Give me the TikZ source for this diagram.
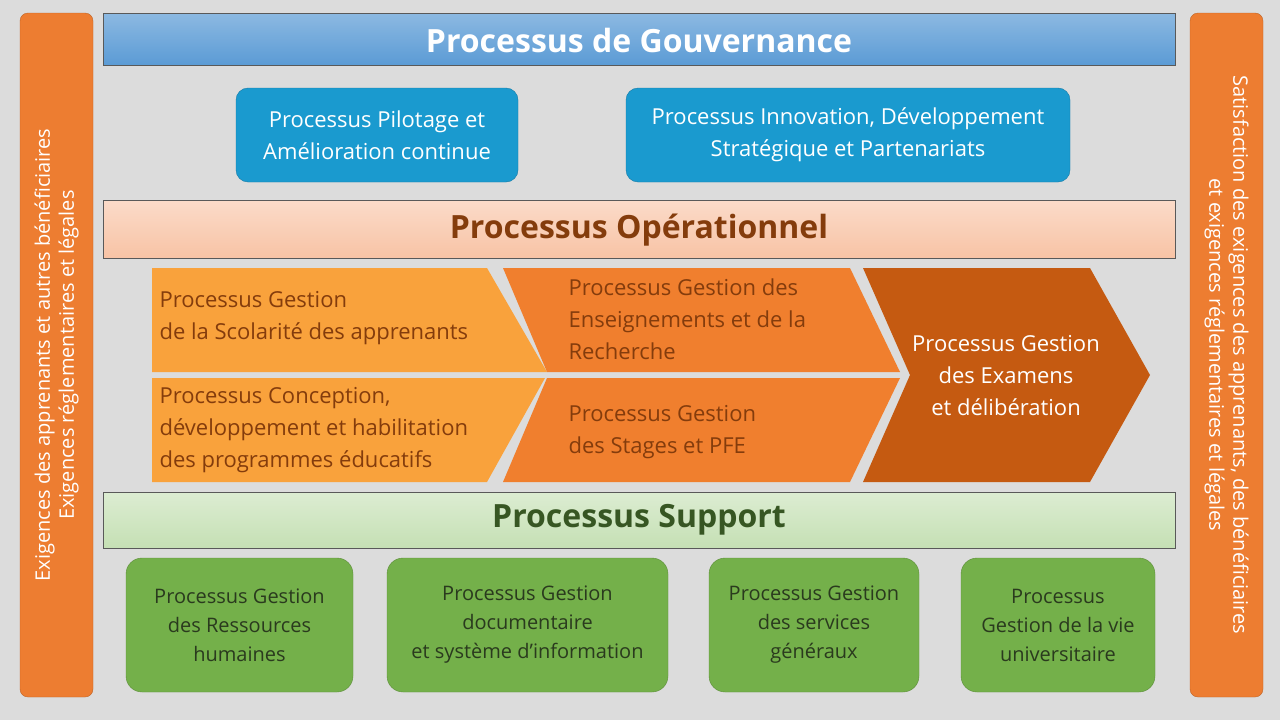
\documentclass[tikz,border=0pt]{standalone}
\usepackage{fontspec}
\setmainfont{Open Sans}
\usetikzlibrary{positioning}
\definecolor{bgray}{HTML}{DCDCDC}
\definecolor{sideorange}{HTML}{ED7D31}
\definecolor{govblue}{HTML}{5B9BD5}
\definecolor{subblue}{HTML}{1A9ACF}
\definecolor{oppeach}{HTML}{F8C3A5}
\definecolor{opbrown}{HTML}{843C0C}
\definecolor{chevA}{HTML}{F9A23C}
\definecolor{chevB}{HTML}{F07F2E}
\definecolor{chevC}{HTML}{C55A11}
\definecolor{suplight}{HTML}{C5E0B4}
\definecolor{supdark}{HTML}{375623}
\definecolor{supbox}{HTML}{74B04A}
\definecolor{suptext}{HTML}{2A3A1E}
\begin{document}
\begin{tikzpicture}[
    x=1pt, y=-1pt,
    sidebar/.style={draw=sideorange!80!black, fill=sideorange, rounded corners=8pt},
    sidetext/.style={text=white, align=center, font=\fontsize{20}{24}\selectfont},
    banner/.style={draw=gray!70!black, line width=0.8pt},
    bannertext/.style={font=\bfseries\fontsize{32}{36}\selectfont},
    govbox/.style={draw=subblue!80!black, fill=subblue, rounded corners=12pt},
    govtext/.style={text=white, align=center, font=\fontsize{22}{32}\selectfont},
    chevtext/.style={align=left, font=\fontsize{22}{32}\selectfont},
    supbox/.style={draw=supbox!80!black, fill=supbox, rounded corners=16pt},
    suptext/.style={text=suptext, align=center, font=\fontsize{20}{29}\selectfont},
    ]

    %background
    \fill[bgray] (0,0) rectangle (1280,720);
    \useasboundingbox (0,0) rectangle (1280,720);

    %side bars
    \draw[sidebar] (20,13) rectangle (93,697);
    \node[sidetext, rotate=90] (leftlabel) at (56.5,355)
        {Exigences des apprenants et autres bénéficiaires\\Exigences réglementaires et légales};
    \draw[sidebar] (1190,13) rectangle (1263,697);
    \node[sidetext, rotate=-90] (rightlabel) at (1226.5,355)
        {Satisfaction des exigences des apprenants, des bénéficiaires\\et exigences réglementaires et légales};

    %gouvernance
    \shade[banner, top color=govblue!70, bottom color=govblue] (103,13) rectangle (1175,65);
    \node[bannertext, text=white] (gov) at (639,40) {Processus de Gouvernance};
    \draw[govbox] (236,88) rectangle (518,182);
    \node[govtext] (pilot) at (377,135) {Processus Pilotage et\\Amélioration continue};
    \draw[govbox] (626,88) rectangle (1070,182);
    \node[govtext] (innov) at (848,135) {Processus Innovation, Développement\\Stratégique et Partenariats};

    %operationnel
    \shade[banner, top color=oppeach!60, bottom color=oppeach] (103,200) rectangle (1175,258);
    \node[bannertext, text=opbrown] (op) at (639,230) {Processus Opérationnel};

    \fill[chevA] (152,268) -- (487,268) -- (547,372) -- (152,372) -- cycle;
    \node[chevtext, text=opbrown, anchor=west] (scol) at (156,318)
        {Processus Gestion\\de la Scolarité des apprenants};
    \fill[chevA] (152,378) -- (545,378) -- (487,482) -- (152,482) -- cycle;
    \node[chevtext, text=opbrown, anchor=west] (concep) at (156,430)
        {Processus Conception,\\développement et habilitation\\des programmes éducatifs};
    \fill[chevB] (503,268) -- (850,268) -- (900,372) -- (547,372) -- cycle;
    \node[chevtext, text=opbrown, anchor=west] (ens) at (565,319)
        {Processus Gestion des\\Enseignements et de la\\Recherche};
    \fill[chevB] (547,378) -- (900,378) -- (850,482) -- (503,482) -- cycle;
    \node[chevtext, text=opbrown, anchor=west] (stage) at (565,432)
        {Processus Gestion\\des Stages et PFE};
    \fill[chevC] (863,268) -- (1090,268) -- (1150,375) -- (1090,482) -- (863,482) -- (910,375) -- cycle;
    \node[chevtext, text=white, align=center] (exam) at (1006,376)
        {Processus Gestion\\des Examens\\et délibération};

    %support
    \shade[banner, top color=suplight!60, bottom color=suplight] (103,492) rectangle (1175,548);
    \node[bannertext, text=supdark] (sup) at (639,520) {Processus Support};
    \draw[supbox] (126,558) rectangle (353,692);
    \node[suptext] (rh) at (239.5,625) {Processus Gestion\\des Ressources\\humaines};
    \draw[supbox] (387,558) rectangle (668,692);
    \node[suptext] (doc) at (527.5,625) {Processus Gestion\\documentaire\\et système d’information};
    \draw[supbox] (709,558) rectangle (919,692);
    \node[suptext] (serv) at (814,625) {Processus Gestion\\des services\\généraux};
    \draw[supbox] (961,558) rectangle (1155,692);
    \node[suptext] (vie) at (1058,625) {Processus\\Gestion de la vie\\universitaire};

\end{tikzpicture}
\end{document}
